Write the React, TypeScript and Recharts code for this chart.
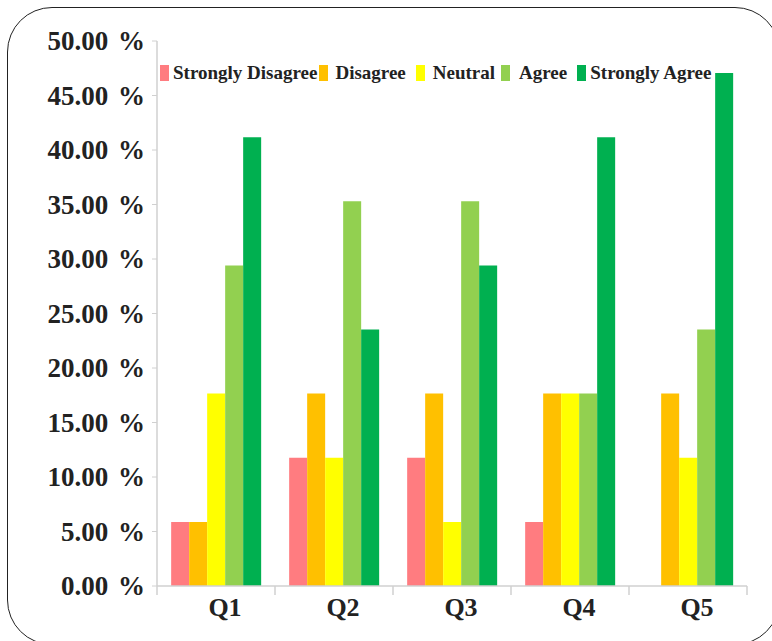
import { BarChart, Bar, XAxis, YAxis, Legend } from 'recharts';

const categories = ['Q1', 'Q2', 'Q3', 'Q4', 'Q5'];
const stronglyDisagree = [5.88, 11.76, 11.76, 5.88, 0];
const disagree = [5.88, 17.65, 17.65, 17.65, 17.65];
const neutral = [17.65, 11.76, 5.88, 17.65, 11.76];
const agree = [29.41, 35.29, 35.29, 17.65, 23.53];
const stronglyAgree = [41.18, 23.53, 29.41, 41.18, 47.06];
const yTicks = [0, 5, 10, 15, 20, 25, 30, 35, 40, 45, 50];

const series = [
  { key: 'sd', name: 'Strongly Disagree', color: '#ff7c80' },
  { key: 'd', name: 'Disagree', color: '#ffc000' },
  { key: 'n', name: 'Neutral', color: '#ffff00' },
  { key: 'a', name: 'Agree', color: '#92d050' },
  { key: 'sa', name: 'Strongly Agree', color: '#00b050' },
];

const data = categories.map((q, i) => ({
  q,
  sd: stronglyDisagree[i],
  d: disagree[i],
  n: neutral[i],
  a: agree[i],
  sa: stronglyAgree[i],
}));

const W = 772;
const H = 641;
const MARGIN = { top: 41, right: 25, bottom: 0, left: 7 };
const Y_WIDTH = 150;
const X_HEIGHT = 55;
const BAND = (W - MARGIN.left - MARGIN.right - Y_WIDTH) / categories.length;
const FONT = '"Liberation Serif", "Times New Roman", serif';

// spacing in the legend (swatch -> text, item -> next item)
const swatchGap = [4, 7, 8, 9, 4];
const itemGap = [2, 10, 6, 10, 0];

function YTick(props: any) {
  const { x, y, payload } = props;
  return (
    <text x={x} y={y} dy="0.35em" textAnchor="end" fontFamily={FONT} fontWeight="bold" fontSize={27} fill="#222">
      {Number(payload.value).toFixed(2)} <tspan dx={3}>%</tspan>
    </text>
  );
}

function XTick(props: any) {
  const { x, y, payload, index } = props;
  const left = x - BAND / 2;
  return (
    <g>
      <line x1={left} y1={y} x2={left} y2={y + 9} stroke="#d0d0d0" strokeWidth={1.5} />
      {index === categories.length - 1 && (
        <line x1={left + BAND} y1={y} x2={left + BAND} y2={y + 9} stroke="#d0d0d0" strokeWidth={1.5} />
      )}
      <text x={x + 9} y={y + 30} textAnchor="middle" fontFamily={FONT} fontWeight="bold" fontSize={26} fill="#222">
        {payload.value}
      </text>
    </g>
  );
}

function LegendContent() {
  return (
    <div style={{ display: 'flex', alignItems: 'center', fontFamily: FONT, fontWeight: 'bold', fontSize: 19, color: '#222', whiteSpace: 'nowrap' }}>
      {series.map((s, i) => (
        <div key={s.key} style={{ display: 'flex', alignItems: 'center', marginRight: itemGap[i] }}>
          <span style={{ display: 'inline-block', width: 9, height: 16, background: s.color, marginRight: swatchGap[i] }} />
          <span>{s.name}</span>
        </div>
      ))}
    </div>
  );
}

export default function App() {
  return (
    <div style={{ position: 'fixed', top: 0, left: 0, width: W, height: H, overflow: 'hidden', background: '#fff' }}>
      <div
        style={{
          position: 'absolute',
          left: 7,
          top: 7,
          width: 773,
          height: 638,
          border: '1.5px solid #222',
          borderRadius: 45,
          boxSizing: 'border-box',
        }}
      />
      <div style={{ position: 'absolute', left: 0, top: 0 }}>
        <BarChart width={W} height={H} data={data} margin={MARGIN} barCategoryGap="12%" barGap={0}>
          <XAxis
            dataKey="q"
            height={X_HEIGHT}
            axisLine={{ stroke: '#d0d0d0', strokeWidth: 1.5 }}
            tickLine={false}
            tickSize={0}
            tickMargin={0}
            tick={<XTick />}
            interval={0}
          />
          <YAxis
            width={Y_WIDTH}
            domain={[0, 50]}
            ticks={yTicks}
            interval={0}
            axisLine={{ stroke: '#d0d0d0', strokeWidth: 1.5 }}
            tickLine={{ stroke: '#d0d0d0' }}
            tickSize={5}
            tickMargin={7}
            tick={<YTick />}
          />
          <Legend
            layout="vertical"
            align="center"
            verticalAlign="middle"
            content={<LegendContent />}
            wrapperStyle={{ position: 'absolute', top: 62, left: 160, width: 'auto' }}
          />
          {series.map((s) => (
            <Bar key={s.key} dataKey={s.key} name={s.name} fill={s.color} isAnimationActive={false} />
          ))}
        </BarChart>
      </div>
    </div>
  );
}
